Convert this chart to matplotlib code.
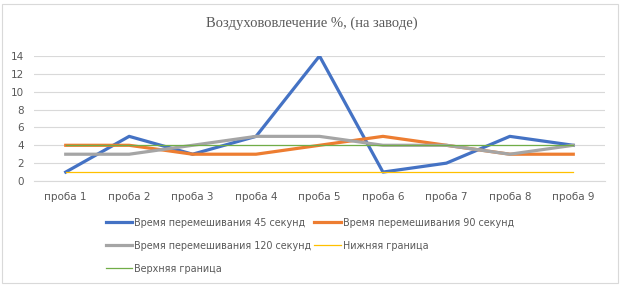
import matplotlib
matplotlib.use("Agg")
import matplotlib.pyplot as plt
from matplotlib.patches import Rectangle

categories = ["проба 1", "проба 2", "проба 3", "проба 4", "проба 5",
              "проба 6", "проба 7", "проба 8", "проба 9"]
s45 = [1, 5, 3, 5, 14, 1, 2, 5, 4]
s90 = [4, 4, 3, 3, 4, 5, 4, 3, 3]
s120 = [3, 3, 4, 5, 5, 4, 4, 3, 4]
lower = [1, 1, 1, 1, 1, 1, 1, 1, 1]
upper = [4, 4, 4, 4, 4, 4, 4, 4, 4]
yticks = [0, 2, 4, 6, 8, 10, 12, 14]

W, H = 624, 289
fig = plt.figure(figsize=(W / 100, H / 100), dpi=100)
fig.patch.set_facecolor("white")
fig.patches.append(Rectangle((2 / W, 1 - 283 / H), 616 / W, 279 / H, transform=fig.transFigure,
                             fill=False, edgecolor="#D9D9D9", linewidth=0.8))

ax = fig.add_axes([34 / W, 1 - 181 / H, 571 / W, 125 / H])
x = list(range(1, len(categories) + 1))

h45, = ax.plot(x, s45, color="#4472C4", lw=2.3, label="Время перемешивания 45 секунд", zorder=3)
h90, = ax.plot(x, s90, color="#ED7D31", lw=2.3, label="Время перемешивания 90 секунд", zorder=3)
h120, = ax.plot(x, s120, color="#A5A5A5", lw=2.3, label="Время перемешивания 120 секунд", zorder=3)
hlo, = ax.plot(x, lower, color="#FFC000", lw=0.9, label="Нижняя граница", zorder=3)
hup, = ax.plot(x, upper, color="#70AD47", lw=0.9, label="Верхняя граница", zorder=3)

ax.set_xlim(0.5, len(categories) + 0.5)
ax.set_ylim(0, 14)
ax.set_yticks(yticks)
ax.set_xticks(x)
ax.set_xticklabels(categories)
ax.grid(axis="y", color="#D9D9D9", lw=0.8)
ax.set_axisbelow(True)
for s in ["top", "right", "left"]:
    ax.spines[s].set_visible(False)
ax.spines["bottom"].set_color("#D9D9D9")
ax.spines["bottom"].set_linewidth(0.8)
ax.tick_params(axis="both", length=0, colors="#595959", labelsize=7.5)
ax.tick_params(axis="x", pad=8)
ax.tick_params(axis="y", pad=7)

fig.text(0.5, 1 - 23 / H, "Воздухововлечение %, (на заводе)", ha="center", va="center",
         fontsize=10.5, family="Liberation Serif", color="#595959")

handles = [h45, h120, hup, h90, hlo]
leg = fig.legend(handles=handles, labels=[h.get_label() for h in handles],
                 loc="upper left", bbox_to_anchor=(97 / W, 1 - 209 / H), ncol=2,
                 frameon=False, fontsize=6.9, handlelength=2.8, handletextpad=0.2,
                 columnspacing=0.3, labelspacing=1.35, labelcolor="#595959")

fig.savefig("out.png", dpi=100)
